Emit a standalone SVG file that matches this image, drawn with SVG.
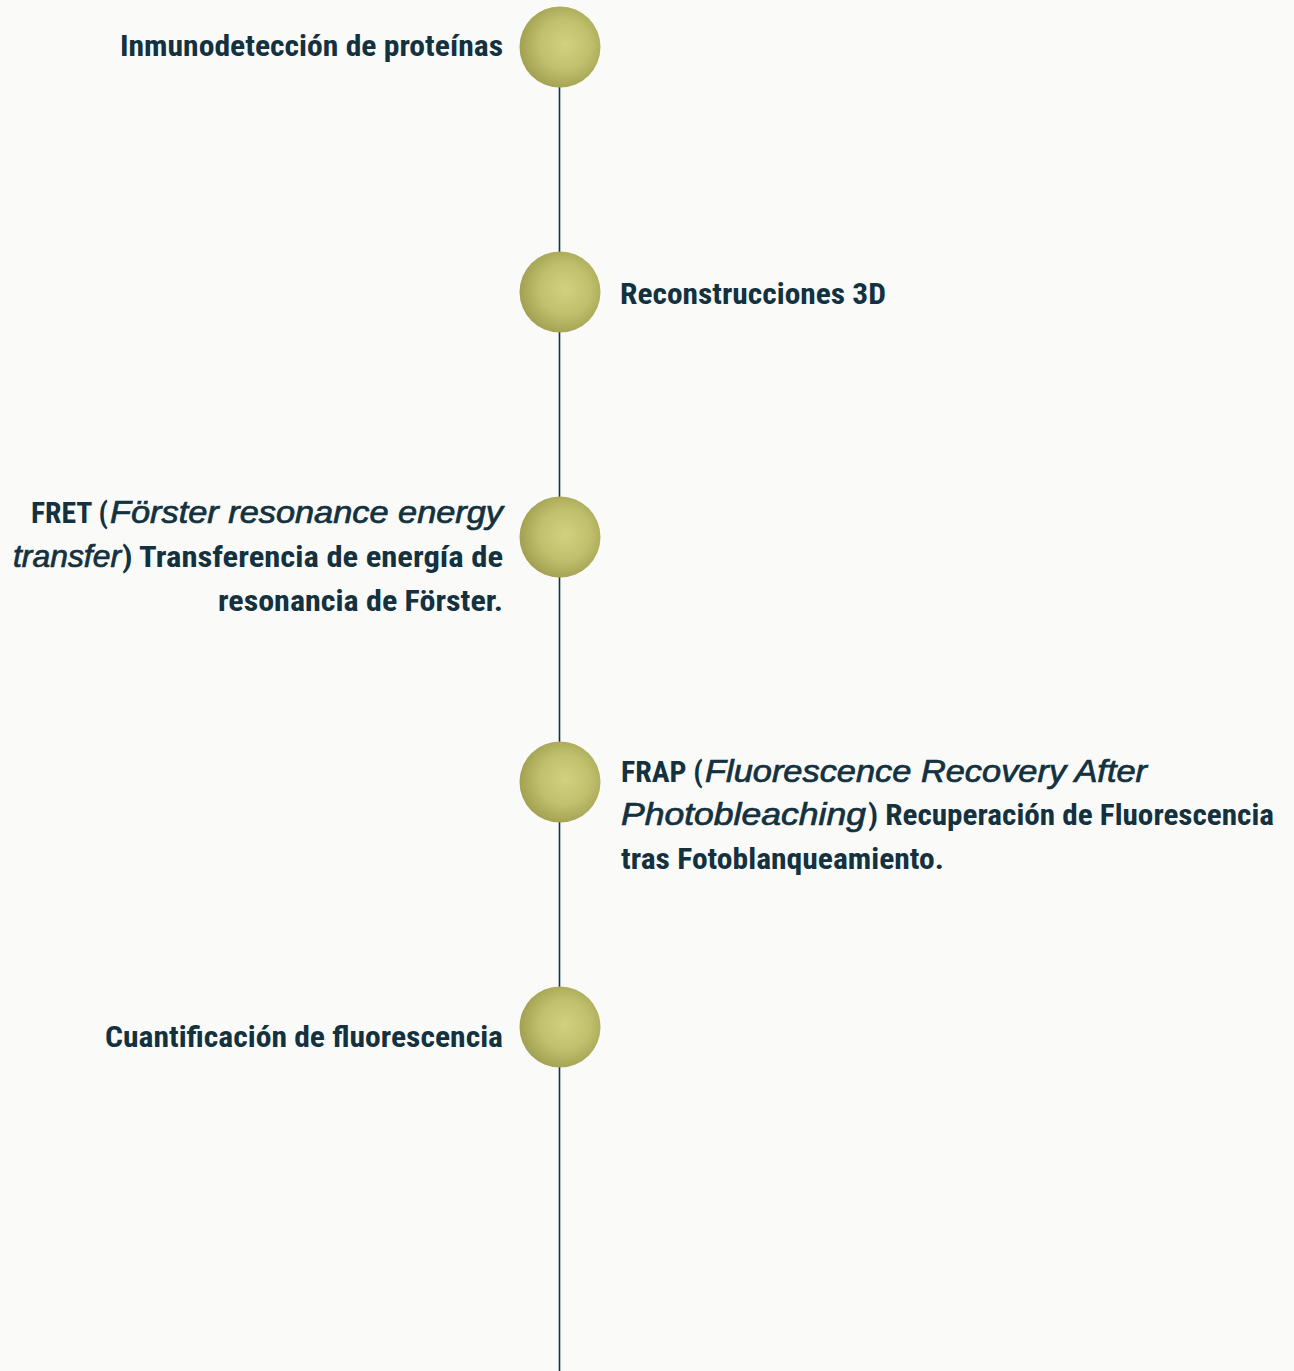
<svg xmlns="http://www.w3.org/2000/svg" width="1294" height="1371" viewBox="0 0 1294 1371">
<defs>
<radialGradient id="g" cx="0.56" cy="0.47" r="0.56">
<stop offset="0" stop-color="#d1d180"/>
<stop offset="0.55" stop-color="#c0c06d"/>
<stop offset="1" stop-color="#a2a152"/>
</radialGradient>
<style>
.t{font-family:"Roboto Condensed","Liberation Sans Narrow","Liberation Sans",sans-serif;font-weight:bold;font-size:29px;fill:#13313f}
.i{font-family:"Liberation Sans",Arial,sans-serif;font-style:italic;font-weight:normal;font-size:30.5px;fill:#13313f;stroke:#13313f;stroke-width:0.7}
.c{fill:url(#g)}
</style>
</defs>
<rect width="1294" height="1371" fill="#fafaf8"/>
<g id="connectors"><line x1="559.5" y1="47" x2="559.5" y2="1371" stroke="#13313f" stroke-width="1.6"/></g>
<g id="n1"><circle class="c" cx="560" cy="47" r="40.5"/><text class="t" x="120" y="56" textLength="383" lengthAdjust="spacingAndGlyphs">Inmunodetección de proteínas</text></g>
<g id="n2"><circle class="c" cx="560" cy="292" r="40.5"/><text class="t" x="620" y="304" textLength="266" lengthAdjust="spacingAndGlyphs">Reconstrucciones 3D</text></g>
<g id="n3"><circle class="c" cx="560" cy="537" r="40.5"/>
<text class="t" x="31" y="523" textLength="77" lengthAdjust="spacingAndGlyphs">FRET (</text>
<text class="i" x="110" y="523" textLength="393" lengthAdjust="spacingAndGlyphs">Förster resonance energy</text>
<text class="i" x="13" y="567" textLength="108" lengthAdjust="spacingAndGlyphs">transfer</text>
<text class="t" x="122" y="567" textLength="381" lengthAdjust="spacingAndGlyphs">) Transferencia de energía de</text>
<text class="t" x="218" y="611" textLength="285" lengthAdjust="spacingAndGlyphs">resonancia de Förster.</text></g>
<g id="n4"><circle class="c" cx="560" cy="782" r="40.5"/>
<text class="t" x="621" y="782" textLength="82" lengthAdjust="spacingAndGlyphs">FRAP (</text>
<text class="i" x="705" y="782" textLength="442" lengthAdjust="spacingAndGlyphs">Fluorescence Recovery After</text>
<text class="i" x="621" y="825" textLength="245" lengthAdjust="spacingAndGlyphs">Photobleaching</text>
<text class="t" x="868" y="825" textLength="406" lengthAdjust="spacingAndGlyphs">) Recuperación de Fluorescencia</text>
<text class="t" x="621" y="869" textLength="323" lengthAdjust="spacingAndGlyphs">tras Fotoblanqueamiento.</text></g>
<g id="n5"><circle class="c" cx="560" cy="1027" r="40.5"/><text class="t" x="105" y="1047" textLength="398" lengthAdjust="spacingAndGlyphs">Cuantificación de fluorescencia</text></g>
</svg>
